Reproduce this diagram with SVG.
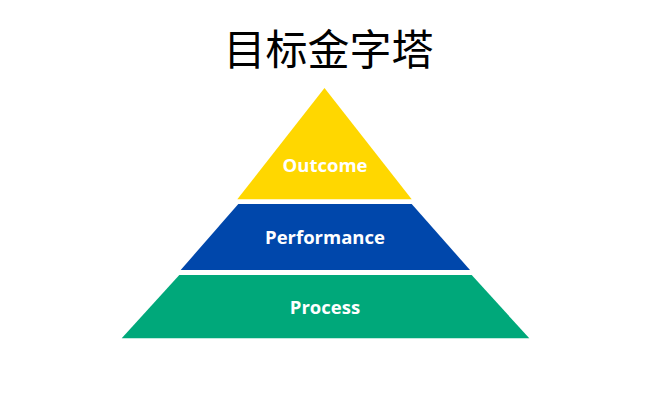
<svg xmlns="http://www.w3.org/2000/svg" width="650" height="400" viewBox="0 0 650 400">
<style>
.lbl{font-family:"Open Sans","Liberation Sans",sans-serif;font-weight:bold;font-size:18.5px;fill:#fff;text-anchor:middle}
.title{font-family:"Noto Sans CJK SC","Noto Sans",sans-serif;font-size:42px;fill:#000;text-anchor:middle}
</style>
<rect width="650" height="400" fill="#fff"/>
<text class="title" x="328.5" y="65">目标金字塔</text>
<g id="outcome">
<polygon points="324.5,88 411.7,199.3 237.3,199.3" fill="#FFD700"/>
<text class="lbl" x="325" y="171.5">Outcome</text>
</g>
<g id="performance">
<polygon points="238.3,204 411.7,204 470,270 180.7,270" fill="#0047AB"/>
<text class="lbl" x="325" y="244">Performance</text>
</g>
<g id="process">
<polygon points="179.3,275 471.7,275 529.3,338.3 121.7,338.3" fill="#00A87A"/>
<text class="lbl" x="325" y="314">Process</text>
</g>
<g id="connectors"/>
</svg>
